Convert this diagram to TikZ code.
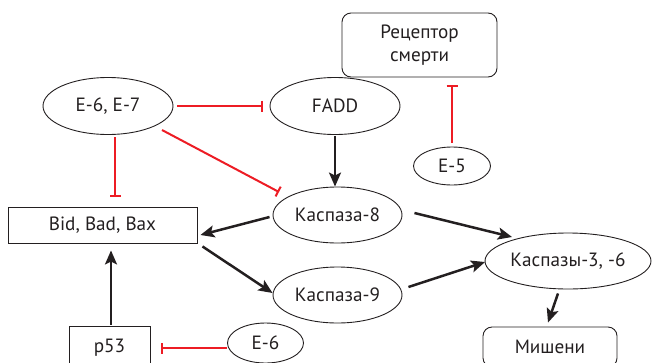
\documentclass[tikz,border=0pt]{standalone}
\usepackage{fontspec}
\setmainfont{PT Sans}
\usetikzlibrary{arrows.meta,shapes.geometric,calc}
\definecolor{inkc}{HTML}{231F20}
\definecolor{redc}{HTML}{ED1C24}
\begin{document}
\begin{tikzpicture}[x=1pt,y=1pt,
  every node/.style={font=\fontsize{19.2}{23}\selectfont,text=inkc},
  ell/.style={ellipse,draw=inkc,line width=0.9pt,inner sep=0pt},
  boxn/.style={rectangle,draw=inkc,line width=0.9pt,inner sep=0pt},
  rboxn/.style={boxn,rounded corners=9pt},
  act/.style={draw=inkc,line width=2.5pt,-{Stealth[length=14pt,width=12pt,inset=3pt]}},
  inh/.style={draw=redc,line width=2pt,-{Bar[width=11pt]}}]
\useasboundingbox (0,0) rectangle (652,-362);
\node[ell,minimum width=130,minimum height=57] (e67) at (108,-106) {E-6, E-7};
\node[ell,minimum width=130,minimum height=57] (fadd) at (335,-106) {FADD};
\node[rboxn,minimum width=155,minimum height=64,align=center] (rec) at (419.5,-45) {Рецептор\\смерти};
\node[ell,minimum width=77,minimum height=38] (e5) at (452,-166) {E-5};
\node[ell,minimum width=129,minimum height=56] (c8) at (337.5,-215) {Каспаза-8};
\node[boxn,minimum width=189,minimum height=36] (bid) at (102.5,-225) {Bid, Bad, Bax};
\node[ell,minimum width=129,minimum height=56] (c9) at (337.5,-295) {Каспаза-9};
\node[ell,minimum width=166,minimum height=56] (c36) at (568,-261) {Каспазы-3, -6};
\node[rboxn,minimum width=134,minimum height=40] (mish) at (550,-347) {Мишени};
\node[boxn,minimum width=81,minimum height=44] (p53) at (109.5,-348) {p53};
\node[ell,minimum width=76,minimum height=40] (e6) at (265.5,-343) {E-6};
% inhibitions
\draw[inh] ($(e67.east)+(4,0)$) -- ($(fadd.west)+(-7,0)$);
\draw[inh] ($(e67.south)+(7,-2.5)$) -- ($(bid.north)+(12.5,10)$);
\draw[inh] ($(e67.center)+(54,-24)$) -- ($(c8.center)+(-58.5,23)$);
\draw[inh] ($(e5.north)+(0,4)$) -- ($(rec.south)+(32.5,-8)$);
\draw[inh] ($(e6.west)+(-0.5,-5)$) -- ($(p53.east)+(11,0)$);
% activations
\draw[act] ($(fadd.south)+(0,-1)$) -- ($(c8.north)+(-2.5,0)$);
\draw[act] ($(c8.west)+(-3,-2)$) -- ($(bid.east)+(3,-10)$);
\draw[act] ($(bid.south east)+(5,-3)$) -- ($(c9.west)+(0,2)$);
\draw[act] ($(p53.north)+(1.5,1)$) -- ($(bid.south)+(8.5,-7)$);
\draw[act] ($(c8.east)+(12,2)$) -- ($(c36.center)+(-56,24)$);
\draw[act] ($(c9.east)+(6,8)$) -- ($(c36.west)+(0.5,-1)$);
\draw[act] ($(c36.south)+(-10,-4)$) -- ($(mish.north)+(-2,4)$);
\end{tikzpicture}
\end{document}
